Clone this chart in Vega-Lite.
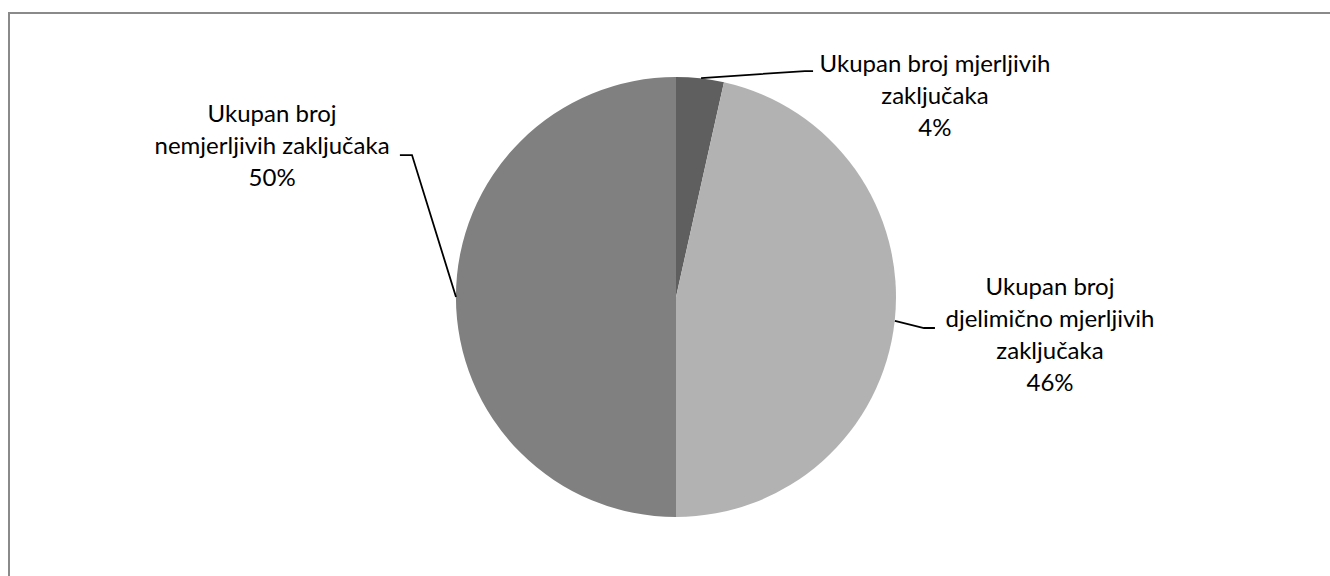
{
  "$schema": "https://vega.github.io/schema/vega-lite/v6.json",
  "autosize": "none",
  "width": 1334,
  "height": 568,
  "padding": {"left": 9, "top": 13, "right": 0, "bottom": 0},
  "background": "white",
  "config": {"view": {"stroke": "#8a8a8a", "strokeWidth": 2}},
  "datasets": {
    "slices": [
      {"kategorija": "Ukupan broj mjerljivih zaključaka", "udio": 3.5, "red": 1},
      {"kategorija": "Ukupan broj djelimično mjerljivih zaključaka", "udio": 46.5, "red": 2},
      {"kategorija": "Ukupan broj nemjerljivih zaključaka", "udio": 50, "red": 3}
    ],
    "labels": [
      {"tekst": "Ukupan broj mjerljivih\nzaključaka\n4%", "x": 1.177, "y": 1.0545},
      {"tekst": "Ukupan broj\nnemjerljivih zaključaka\n50%", "x": -1.836, "y": 0.827},
      {"tekst": "Ukupan broj\ndjelimično mjerljivih\nzaključaka\n46%", "x": 1.7, "y": 0.041}
    ],
    "leaders": [
      {"grupa": "a", "i": 1, "x": 0.114, "y": 0.995},
      {"grupa": "a", "i": 2, "x": 0.586, "y": 1.027},
      {"grupa": "a", "i": 3, "x": 0.623, "y": 1.027},
      {"grupa": "b", "i": 1, "x": -1.0, "y": 0.0},
      {"grupa": "b", "i": 2, "x": -1.2, "y": 0.645},
      {"grupa": "b", "i": 3, "x": -1.255, "y": 0.645},
      {"grupa": "c", "i": 1, "x": 0.995, "y": -0.109},
      {"grupa": "c", "i": 2, "x": 1.127, "y": -0.141},
      {"grupa": "c", "i": 3, "x": 1.177, "y": -0.141}
    ]
  },
  "layer": [
    {
      "data": {"name": "slices"},
      "mark": {"type": "arc", "outerRadius": 220},
      "encoding": {
        "theta": {"field": "udio", "type": "quantitative", "stack": true},
        "order": {"field": "red", "type": "quantitative"},
        "color": {
          "field": "kategorija",
          "type": "nominal",
          "scale": {
            "domain": ["Ukupan broj mjerljivih zaključaka", "Ukupan broj djelimično mjerljivih zaključaka", "Ukupan broj nemjerljivih zaključaka"],
            "range": ["#5f5f5f", "#b2b2b2", "#808080"]
          },
          "legend": null
        }
      }
    },
    {
      "data": {"name": "leaders"},
      "mark": {"type": "line", "color": "black", "strokeWidth": 1.8},
      "encoding": {
        "x": {"field": "x", "type": "quantitative", "scale": {"domain": [-3.0318, 3.0318], "nice": false, "zero": false}, "axis": null},
        "y": {"field": "y", "type": "quantitative", "scale": {"domain": [-1.2909, 1.2909], "nice": false, "zero": false}, "axis": null},
        "detail": {"field": "grupa"},
        "order": {"field": "i", "type": "quantitative"}
      }
    },
    {
      "data": {"name": "labels"},
      "mark": {"type": "text", "font": "Lato", "fontSize": 24, "lineBreak": "\n", "lineHeight": 32, "align": "center", "baseline": "middle", "color": "black"},
      "encoding": {
        "x": {"field": "x", "type": "quantitative"},
        "y": {"field": "y", "type": "quantitative"},
        "text": {"field": "tekst"}
      }
    }
  ]
}
